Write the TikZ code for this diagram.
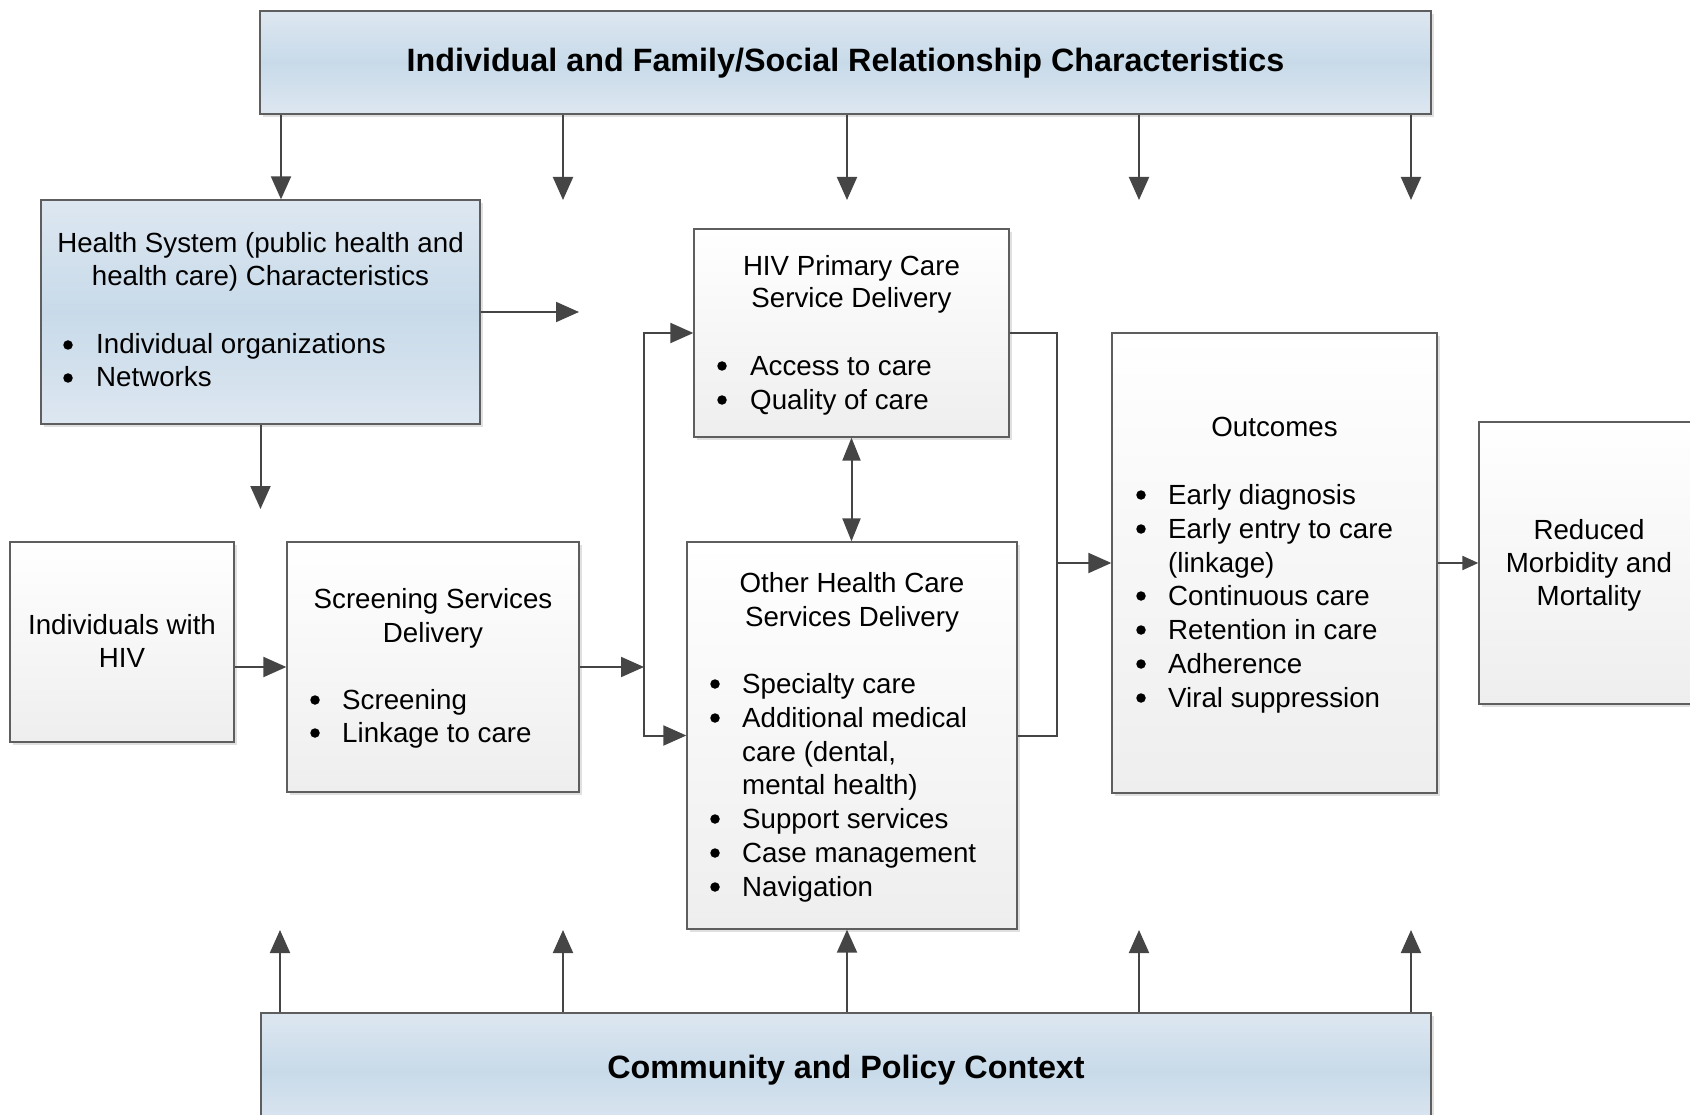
\documentclass[tikz,border=0pt]{standalone}
\usepackage{fontspec}
\setmainfont{Liberation Sans}
\usetikzlibrary{arrows.meta,shadows,fit,calc}
\definecolor{lineC}{HTML}{5E5E5E}
\definecolor{arrC}{HTML}{454545}
\definecolor{blueT}{HTML}{DDE7F1}
\definecolor{blueM}{HTML}{C8DAE9}
\definecolor{grayB}{HTML}{EEEEEE}
\tikzset{
  basebox/.style={draw=lineC, line width=1.3pt, inner sep=0pt,
    drop shadow={shadow xshift=3pt, shadow yshift=-3pt, fill=black!12, opacity=1}},
  bluebox/.style={basebox, top color=blueT, bottom color=blueT, middle color=blueM},
  graybox/.style={basebox, top color=white, bottom color=grayB},
  txt/.style={font=\fontsize{27.7}{33.8}\selectfont, inner sep=0pt, anchor=base},
  ltxt/.style={txt, anchor=base west},
  bul/.style={circle, fill=black, inner sep=0pt, minimum size=9.5pt, yshift=9pt},
  ttl/.style={font=\fontsize{32.3}{38}\bfseries\selectfont, inner sep=0pt, anchor=base},
  arr/.style={draw=arrC, line width=2pt, -{Triangle[length=23pt,width=20pt]}},
  darr/.style={draw=arrC, line width=2pt, {Triangle[length=23pt,width=18pt]}-{Triangle[length=23pt,width=18pt]}},
  sarr/.style={draw=arrC, line width=2pt, -{Triangle[length=16pt,width=14pt]}},
  ln/.style={draw=arrC, line width=2pt},
}
\begin{document}
\begin{tikzpicture}[x=1pt,y=-1pt]
\useasboundingbox (0,0) rectangle (1690,1115);

% boxes
\node[bluebox, fit={(260,11)(1431,114)}] (top) {};
\node[bluebox, fit={(261,1013)(1431,1130)}] (bot) {};
\node[bluebox, fit={(41,200)(480,424)}] (hs) {};
\node[graybox, fit={(694,229)(1009,437)}] (hiv) {};
\node[graybox, fit={(687,542)(1017,929)}] (oth) {};
\node[graybox, fit={(1112,333)(1437,793)}] (out) {};
\node[graybox, fit={(1479,422)(1699,704)}] (red) {};
\node[graybox, fit={(10,542)(234,742)}] (ind) {};
\node[graybox, fit={(287,542)(579,792)}] (scr) {};

% titles
\node[ttl] (topT) at (845.5,72) {Individual and Family/Social Relationship Characteristics};
\node[ttl] (botT) at (846,1078) {Community and Policy Context};

% health system
\node[txt] (hs1) at (260.5,253) {Health System (public health and};
\node[txt] (hs2) at (260.5,286) {health care) Characteristics};
\node[bul] (hsb1) at (68,354) {};
\node[ltxt] (hs3) at (96,354) {Individual organizations};
\node[bul] (hsb2) at (68,387) {};
\node[ltxt] (hs4) at (96,387) {Networks};

% HIV primary care
\node[txt] (hv1) at (851.5,276) {HIV Primary Care};
\node[txt] (hv2) at (851.5,308) {Service Delivery};
\node[bul] (hvb1) at (722,375) {};
\node[ltxt] (hv3) at (750,375) {Access to care};
\node[bul] (hvb2) at (722,409) {};
\node[ltxt] (hv4) at (750,409) {Quality of care};

% other health care
\node[txt] (ot1) at (852,592) {Other Health Care};
\node[txt] (ot2) at (852,626) {Services Delivery};
\node[bul] (otb1) at (715,693) {};
\node[ltxt] (ot3) at (742,693) {Specialty care};
\node[bul] (otb2) at (715,727) {};
\node[ltxt] (ot4) at (742,727) {Additional medical};
\node[ltxt] (ot5) at (742,761) {care (dental,};
\node[ltxt] (ot6) at (742,794) {mental health)};
\node[bul] (otb3) at (715,828) {};
\node[ltxt] (ot7) at (742,828) {Support services};
\node[bul] (otb4) at (715,862) {};
\node[ltxt] (ot8) at (742,862) {Case management};
\node[bul] (otb5) at (715,896) {};
\node[ltxt] (ot9) at (742,896) {Navigation};

% outcomes
\node[txt] (oc0) at (1274.5,436) {Outcomes};
\node[bul] (ocb1) at (1141,504) {};
\node[ltxt] (oc1) at (1168,504) {Early diagnosis};
\node[bul] (ocb2) at (1141,538) {};
\node[ltxt] (oc2) at (1168,538) {Early entry to care};
\node[ltxt] (oc3) at (1168,572) {(linkage)};
\node[bul] (ocb3) at (1141,605) {};
\node[ltxt] (oc4) at (1168,605) {Continuous care};
\node[bul] (ocb4) at (1141,639) {};
\node[ltxt] (oc5) at (1168,639) {Retention in care};
\node[bul] (ocb5) at (1141,673) {};
\node[ltxt] (oc6) at (1168,673) {Adherence};
\node[bul] (ocb6) at (1141,707) {};
\node[ltxt] (oc7) at (1168,707) {Viral suppression};

% reduced
\node[txt] (rd1) at (1589,539) {Reduced};
\node[txt] (rd2) at (1589,572) {Morbidity and};
\node[txt] (rd3) at (1589,605) {Mortality};

% individuals
\node[txt] (in1) at (122,634) {Individuals with};
\node[txt] (in2) at (122,667) {HIV};

% screening
\node[txt] (sc1) at (433,608) {Screening Services};
\node[txt] (sc2) at (433,642) {Delivery};
\node[bul] (scb1) at (315,709) {};
\node[ltxt] (sc3) at (342,709) {Screening};
\node[bul] (scb2) at (315,742) {};
\node[ltxt] (sc4) at (342,742) {Linkage to care};

% free arrow ends
\coordinate (ta1) at (281,200);
\coordinate (ta2) at (563,200);
\coordinate (ta3) at (847,200);
\coordinate (ta4) at (1139,200);
\coordinate (ta5) at (1411,200);
\coordinate (ba1) at (280,930);
\coordinate (ba2) at (563,930);
\coordinate (ba3) at (847,930);
\coordinate (ba4) at (1139,930);
\coordinate (ba5) at (1411,930);
\coordinate (hsd) at (260.5,509);
\coordinate (hsr) at (579,312);
\coordinate (J) at (644,667);
\coordinate (K) at (1057,563);

% top arrows
\draw[arr] (top.south -| ta1) -- (hs.north -| ta1);
\draw[arr] (top.south -| ta2) -- (ta2);
\draw[arr] (top.south -| ta3) -- (ta3);
\draw[arr] (top.south -| ta4) -- (ta4);
\draw[arr] (top.south -| ta5) -- (ta5);
% bottom arrows
\draw[arr] (bot.north -| ba1) -- (ba1);
\draw[arr] (bot.north -| ba2) -- (ba2);
\draw[arr] (bot.north -| ba3) -- (oth.south -| ba3);
\draw[arr] (bot.north -| ba4) -- (ba4);
\draw[arr] (bot.north -| ba5) -- (ba5);

% health system arrows
\draw[arr] (hs.south) -- (hsd);
\draw[arr] (hs.east) -- (hsr);

% flow
\draw[arr] (ind.east |- scr.west) -- (scr.west);
\draw[arr] (scr.east |- J) -- (J);
\draw[arr] (J) |- (hiv.west);
\draw[arr] (J) |- (oth.west);
\draw[darr] (hiv.south) -- (hiv.south |- oth.north);
\draw[ln] (hiv.east) -| (K);
\draw[ln] (oth.east) -| (K);
\draw[arr] (K) -- (out.west);
\draw[sarr] (out.east) -- (red.west);
\end{tikzpicture}
\end{document}
